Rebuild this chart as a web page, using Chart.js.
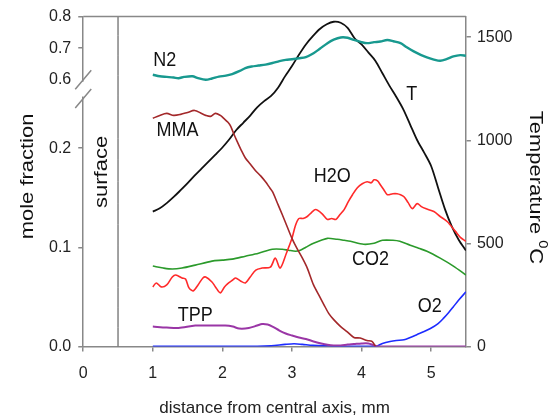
<!DOCTYPE html>
<html>
<head>
<meta charset="utf-8">
<script src="https://cdn.jsdelivr.net/npm/chart.js@4.4.1/dist/chart.umd.min.js"></script>
<style>
  html, body { margin: 0; padding: 0; background: #fff; }
  #wrap { width: 548px; height: 420px; }
</style>
</head>
<body>
<div id="wrap"><canvas id="myChart" width="548" height="420"></canvas></div>
<script>
// tick labels
var xTicks = [0, 1, 2, 3, 4, 5];
var lowTicks = [0, 0.1, 0.2];
var topTicks = [0.6, 0.7, 0.8];
var tempTicks = [0, 500, 1000, 1500];

// N2 (upper part of the broken axis)
var n2X = [1.0, 1.1, 1.2, 1.3, 1.37, 1.45, 1.57, 1.65, 1.76, 1.85, 1.95, 2.05, 2.14, 2.25, 2.33, 2.42, 2.52, 2.62, 2.72, 2.82, 2.91, 3.0, 3.1, 3.2, 3.31, 3.4, 3.51, 3.6, 3.7, 3.8, 3.89, 4.0, 4.08, 4.18, 4.27, 4.37, 4.46, 4.56, 4.65, 4.75, 4.85, 4.94, 5.04, 5.13, 5.22, 5.32, 5.42, 5.5];
var n2Y = [0.616, 0.611, 0.609, 0.607, 0.605, 0.609, 0.611, 0.605, 0.600, 0.604, 0.610, 0.613, 0.618, 0.628, 0.637, 0.642, 0.645, 0.648, 0.653, 0.659, 0.663, 0.665, 0.668, 0.672, 0.684, 0.698, 0.716, 0.727, 0.734, 0.733, 0.726, 0.719, 0.716, 0.719, 0.721, 0.726, 0.722, 0.716, 0.703, 0.690, 0.679, 0.671, 0.664, 0.660, 0.665, 0.674, 0.678, 0.676];

// MMA
var mmaX = [1.0, 1.1, 1.2, 1.3, 1.4, 1.5, 1.6, 1.7, 1.76, 1.83, 1.9, 1.97, 2.02, 2.08, 2.12, 2.16, 2.21, 2.27, 2.33, 2.4, 2.48, 2.55, 2.62, 2.68, 2.72, 2.8, 2.86, 2.93, 3.0, 3.07, 3.15, 3.22, 3.31, 3.4, 3.46, 3.53, 3.6, 3.7, 3.79, 3.89, 3.98, 4.08, 4.15, 4.2];
var mmaY = [0.230, 0.233, 0.235, 0.233, 0.234, 0.236, 0.238, 0.235, 0.233, 0.232, 0.235, 0.233, 0.230, 0.226, 0.222, 0.215, 0.207, 0.198, 0.190, 0.184, 0.177, 0.172, 0.166, 0.160, 0.156, 0.143, 0.133, 0.121, 0.109, 0.099, 0.089, 0.079, 0.062, 0.050, 0.042, 0.033, 0.027, 0.020, 0.015, 0.009, 0.0084, 0.006, 0.005, 0.0];

// H2O
var h2oX = [1.0, 1.05, 1.12, 1.2, 1.28, 1.33, 1.42, 1.47, 1.52, 1.58, 1.65, 1.72, 1.76, 1.85, 1.9, 1.97, 2.03, 2.09, 2.15, 2.19, 2.26, 2.33, 2.4, 2.48, 2.57, 2.69, 2.76, 2.83, 2.92, 3.0, 3.05, 3.1, 3.16, 3.22, 3.28, 3.34, 3.43, 3.51, 3.57, 3.63, 3.69, 3.75, 3.81, 3.87, 3.94, 4.01, 4.08, 4.14, 4.18, 4.23, 4.27, 4.32, 4.37, 4.45, 4.51, 4.56, 4.61, 4.67, 4.73, 4.8, 4.86, 4.92, 5.04, 5.13, 5.23, 5.35, 5.42, 5.5];
var h2oY = [0.060, 0.064, 0.060, 0.062, 0.070, 0.072, 0.069, 0.068, 0.059, 0.056, 0.062, 0.069, 0.070, 0.065, 0.060, 0.054, 0.060, 0.064, 0.067, 0.069, 0.066, 0.064, 0.070, 0.077, 0.079, 0.080, 0.089, 0.079, 0.094, 0.109, 0.122, 0.129, 0.129, 0.131, 0.135, 0.138, 0.134, 0.128, 0.129, 0.128, 0.133, 0.138, 0.146, 0.153, 0.160, 0.164, 0.166, 0.165, 0.168, 0.167, 0.163, 0.158, 0.153, 0.154, 0.154, 0.153, 0.151, 0.145, 0.139, 0.144, 0.141, 0.139, 0.136, 0.131, 0.126, 0.116, 0.110, 0.106];

// CO2
var co2X = [1.0, 1.15, 1.28, 1.42, 1.61, 1.85, 2.0, 2.14, 2.33, 2.52, 2.72, 2.86, 2.95, 3.05, 3.12, 3.2, 3.31, 3.42, 3.51, 3.65, 3.75, 3.84, 4.03, 4.18, 4.3, 4.45, 4.55, 4.7, 4.82, 4.94, 5.13, 5.32, 5.5];
var co2Y = [0.081, 0.079, 0.078, 0.079, 0.082, 0.086, 0.087, 0.088, 0.091, 0.094, 0.098, 0.098, 0.097, 0.096, 0.097, 0.100, 0.104, 0.107, 0.109, 0.108, 0.107, 0.106, 0.103, 0.104, 0.107, 0.107, 0.106, 0.102, 0.099, 0.096, 0.089, 0.081, 0.072];

// TPP
var tppX = [1.0, 1.2, 1.37, 1.61, 1.85, 2.04, 2.15, 2.24, 2.38, 2.5, 2.57, 2.65, 2.72, 2.82, 2.91, 3.0, 3.1, 3.2, 3.31, 3.42, 3.51, 3.6, 3.7, 3.8, 3.89, 4.0, 4.1, 4.18, 4.25, 5.5];
var tppY = [0.020, 0.019, 0.0185, 0.021, 0.021, 0.021, 0.020, 0.018, 0.0185, 0.021, 0.0225, 0.022, 0.020, 0.016, 0.013, 0.011, 0.009, 0.0075, 0.005, 0.003, 0.0017, 0.001, 0.001, 0.0018, 0.0023, 0.003, 0.003, 0.001, 0.0, 0.0];

// O2
var o2X = [1.0, 2.5, 2.7, 2.9, 3.03, 3.15, 3.3, 3.5, 3.8, 4.2, 4.3, 4.41, 4.5, 4.61, 4.7, 4.8, 4.9, 4.99, 5.1, 5.18, 5.25, 5.32, 5.4, 5.5];
var o2Y = [0, 0, 0.0005, 0.002, 0.0027, 0.002, 0.001, 0.0005, 0, 0, 0.003, 0.005, 0.006, 0.0067, 0.009, 0.012, 0.015, 0.018, 0.023, 0.0285, 0.034, 0.040, 0.047, 0.055];

// temperature (right axis)
var tX = [1.0, 1.1, 1.2, 1.3, 1.4, 1.5, 1.6, 1.7, 1.8, 1.9, 2.0, 2.1, 2.2, 2.3, 2.4, 2.5, 2.6, 2.7, 2.8, 2.9, 3.0, 3.1, 3.2, 3.3, 3.4, 3.5, 3.6, 3.7, 3.8, 3.9, 4.0, 4.1, 4.2, 4.3, 4.4, 4.5, 4.6, 4.7, 4.8, 4.9, 5.0, 5.1, 5.2, 5.3, 5.4, 5.5];
var tY = [654, 670, 695, 725, 758, 792, 828, 862, 896, 930, 965, 1005, 1050, 1085, 1120, 1160, 1190, 1215, 1255, 1310, 1360, 1415, 1465, 1505, 1540, 1563, 1575, 1570, 1545, 1495, 1465, 1425, 1385, 1325, 1265, 1210, 1150, 1075, 1000, 940, 875, 770, 665, 580, 515, 465];

// surface line
var surfX = [0.5, 0.5];
var surfY = [0, 1600];

// curve labels
var labelNames = ['N2', 'MMA', 'T', 'H2O', 'CO2', 'O2', 'TPP'];
var labelX = [1.17, 1.355, 4.72, 3.58, 4.13, 4.98, 1.61];
var labelY = [0.661, 0.2175, 1222, 0.171, 0.0876, 0.0403, 0.0312];
var labelAxis = ['yTop', 'y', 'yT', 'y', 'y', 'y', 'y'];

function pts(xs, ys) {
    return xs.map(function (x, i) { return { x: x, y: ys[i] }; });
}

function line(data, color, axis, width) {
    return {
        data: data,
        borderColor: color,
        borderWidth: width || 1.6,
        pointRadius: 0,
        fill: false,
        tension: 0.3,
        yAxisID: axis
    };
}

Chart.defaults.font.family = "'Liberation Sans', Arial, sans-serif";
Chart.defaults.color = '#222';

var axisGray = '#888';

function stretchText(ctx, txt, x, y, rot, sx, sy) {
    ctx.save();
    ctx.translate(x, y);
    ctx.rotate(rot);
    ctx.scale(sx, sy);
    ctx.fillText(txt, 0, 0);
    ctx.restore();
}

var decor = {
    id: 'decor',
    afterDraw: function (chart) {
        var ctx = chart.ctx, a = chart.chartArea, s = chart.scales;
        ctx.save();

        // top frame
        ctx.strokeStyle = axisGray;
        ctx.lineWidth = 1.5;
        ctx.beginPath();
        ctx.moveTo(a.left, a.top);
        ctx.lineTo(a.right, a.top);
        ctx.stroke();

        // axis break
        var y1 = s.yTop.getPixelForValue(0.6);
        var y2 = s.y.getPixelForValue(0.25);
        ctx.fillStyle = '#fff';
        ctx.fillRect(a.left - 2, y1 + 2, 4, y2 - y1 - 4);
        ctx.beginPath();
        ctx.moveTo(a.left - 8, y1 + 9.5); ctx.lineTo(a.left + 8, y1 - 9.5);
        ctx.moveTo(a.left - 8, y2 + 9.5); ctx.lineTo(a.left + 8, y2 - 9.5);
        ctx.stroke();

        // curve labels
        ctx.fillStyle = '#111';
        ctx.font = "18px 'Liberation Sans', Arial, sans-serif";
        ctx.textAlign = 'center';
        ctx.textBaseline = 'middle';
        labelNames.forEach(function (name, i) {
            var px = s.x.getPixelForValue(labelX[i]);
            var py = s[labelAxis[i]].getPixelForValue(labelY[i]);
            stretchText(ctx, name, px, py, 0, 1, 1.12);
        });

        // surface
        stretchText(ctx, 'surface', s.x.getPixelForValue(0.263), s.y.getPixelForValue(0.176), -Math.PI / 2, 1.22, 1);

        // left title
        stretchText(ctx, 'mole fraction', a.left - 55, (a.top + a.bottom) / 2 - 5, -Math.PI / 2, 1.22, 1);

        // right title with superscript
        ctx.save();
        ctx.translate(a.right + 69, (a.top + a.bottom) / 2 + 6);
        ctx.rotate(Math.PI / 2);
        ctx.scale(1.22, 1);
        ctx.textAlign = 'left';
        var big = "18px 'Liberation Sans', Arial, sans-serif";
        var small = "12px 'Liberation Sans', Arial, sans-serif";
        ctx.font = big;
        var w1 = ctx.measureText('Temperature ').width;
        var w3 = ctx.measureText('C').width;
        ctx.font = small;
        var w2 = ctx.measureText('0').width;
        var x0 = -(w1 + w2 + w3) / 2;
        ctx.font = big;
        ctx.fillText('Temperature ', x0, 0);
        ctx.font = small;
        ctx.fillText('0', x0 + w1, -7);
        ctx.font = big;
        ctx.fillText('C', x0 + w1 + w2, 0);
        ctx.restore();

        ctx.restore();
    }
};

function fixTicks(list) {
    return function (scale) {
        scale.ticks = list.map(function (v) { return { value: v }; });
    };
}

var grid = {
    drawOnChartArea: false,
    drawTicks: true,
    tickLength: 5,
    color: axisGray,
    lineWidth: 1.5
};

var ctx = document.getElementById('myChart').getContext('2d');
var chart = new Chart(ctx, {
    type: 'line',
    data: {
        datasets: [
            line(pts(n2X, n2Y), '#18998f', 'yTop', 2.4),
            line(pts(mmaX, mmaY), '#a3282a', 'y'),
            line(pts(h2oX, h2oY), '#ff2a2a', 'y'),
            line(pts(co2X, co2Y), '#2b9a2b', 'y'),
            line(pts(tppX, tppY), '#9a36a6', 'y', 2),
            line(pts(o2X, o2Y), '#1d2cff', 'y'),
            line(pts(tX, tY), '#111', 'yT', 1.8),
            line(pts(surfX, surfY), '#444', 'yT', 1)
        ]
    },
    options: {
        responsive: false,
        animation: false,
        parsing: true,
        layout: { padding: { left: 42, right: 29.5, top: 15, bottom: 1 } },
        plugins: {
            legend: { display: false },
            tooltip: { enabled: false }
        },
        scales: {
            x: {
                type: 'linear',
                min: 0,
                max: 5.5,
                afterBuildTicks: fixTicks(xTicks),
                grid: grid,
                border: { color: axisGray, width: 1.5 },
                ticks: { font: { size: 16 }, padding: 13 },
                title: {
                    display: true,
                    text: 'distance from central axis, mm',
                    font: { size: 17 },
                    padding: { top: 2, bottom: 0 }
                }
            },
            y: {
                type: 'linear',
                position: 'left',
                stack: 'left',
                stackWeight: 251,
                min: 0,
                max: 0.253,
                afterBuildTicks: fixTicks(lowTicks),
                grid: grid,
                border: { color: axisGray, width: 1.5 },
                ticks: { font: { size: 16 }, padding: 7, callback: function (v) { return v.toFixed(1); } }
            },
            yTop: {
                type: 'linear',
                position: 'left',
                stack: 'left',
                stackWeight: 79,
                min: 0.55,
                max: 0.8,
                afterBuildTicks: fixTicks(topTicks),
                grid: Object.assign({}, grid, {
                    tickColor: function (c) { return c.tick && c.tick.value === 0.6 ? 'rgba(0,0,0,0)' : axisGray; }
                }),
                border: { color: axisGray, width: 1.5 },
                ticks: { font: { size: 16 }, padding: 7, callback: function (v) { return v.toFixed(1); } }
            },
            yT: {
                type: 'linear',
                position: 'right',
                min: 0,
                max: 1600,
                afterBuildTicks: fixTicks(tempTicks),
                grid: grid,
                border: { color: axisGray, width: 1.5 },
                ticks: { font: { size: 16 }, padding: 6, callback: function (v) { return String(v); } }
            }
        }
    },
    plugins: [decor]
});
</script>
</body>
</html>
